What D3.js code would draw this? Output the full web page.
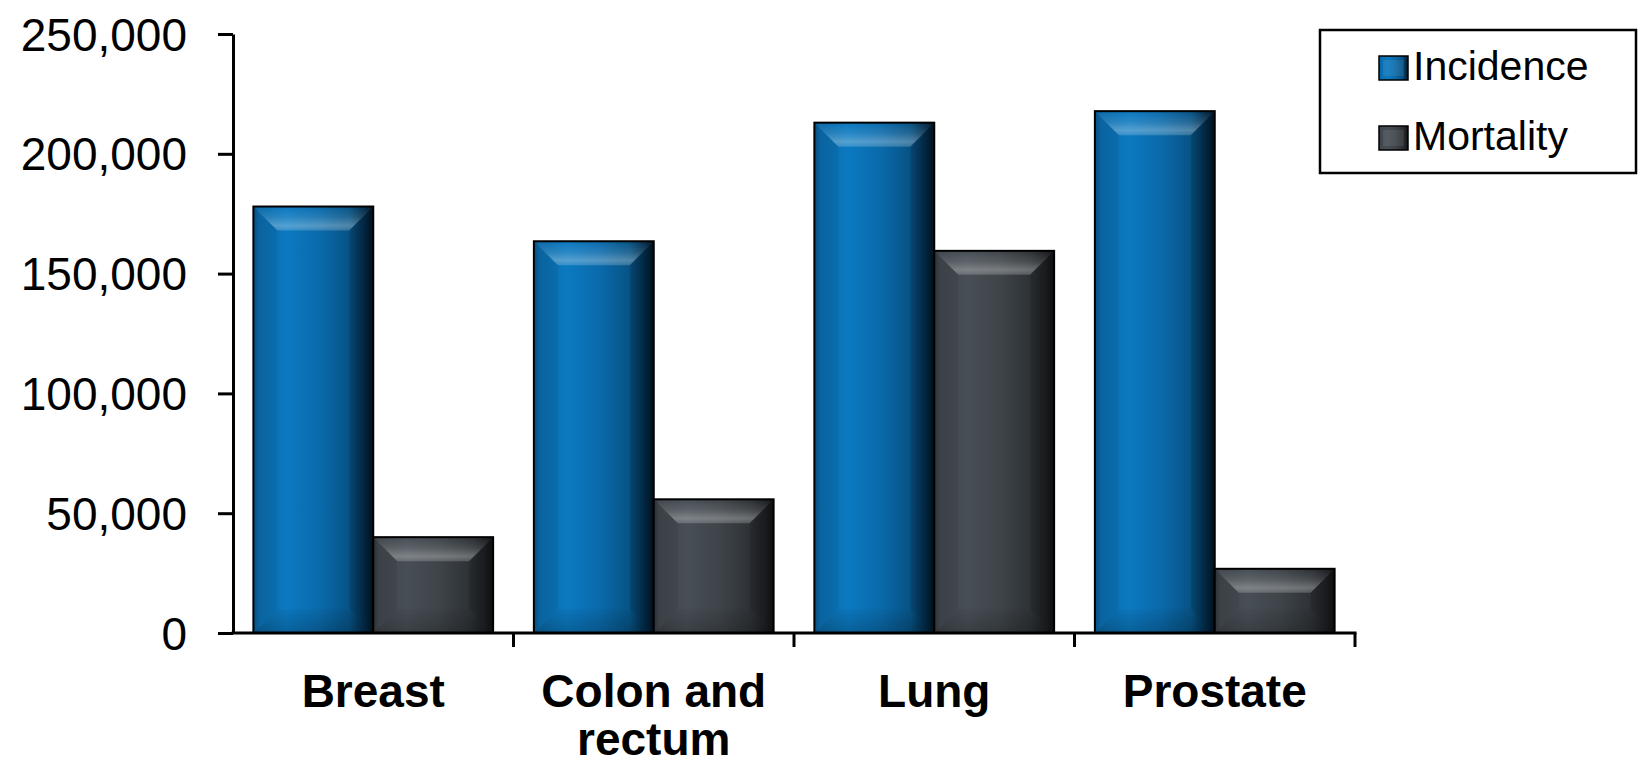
<!DOCTYPE html>
<html>
<head>
<meta charset="utf-8">
<script src="https://cdn.jsdelivr.net/npm/d3@7"></script>
<style>
  html, body { margin: 0; padding: 0; background: #fff; }
  svg { display: block; font-family: "Liberation Sans", Arial, sans-serif; }
</style>
</head>
<body>
<svg id="chart" width="1638" height="764"></svg>
<script>
// Estimated new cases and deaths by cancer site
const categories = ["Breast", "Colon and rectum", "Lung", "Prostate"];
const seriesNames = ["Incidence", "Mortality"];
const incidence = [178000, 163500, 213000, 217800];
const mortality = [40000, 55800, 159500, 26800];
const yTicks = [0, 50000, 100000, 150000, 200000, 250000];

const rows = categories.map((c, i) => ({ category: c, Incidence: incidence[i], Mortality: mortality[i] }));

const svg = d3.select("#chart");
const plot = { left: 233, right: 1355, top: 34, bottom: 633 };

const x0 = d3.scaleBand().domain(categories).range([plot.left, plot.right]).paddingInner(0).paddingOuter(0);
const x1 = d3.scaleBand().domain(seriesNames).range([0, x0.bandwidth()]).paddingInner(0).paddingOuter(0.17);
const y = d3.scaleLinear().domain([0, 250000]).range([plot.bottom, plot.top]);

// Gradients for the bevelled bars
const defs = svg.append("defs");
const bodyStops = {
  Incidence: [[0, "#08548a"], [0.05, "#0b6aa9"], [0.28, "#0b79c0"], [0.55, "#0a6aab"], [0.8, "#075385"], [0.93, "#032a47"], [1, "#01121f"]],
  Mortality: [[0, "#30353a"], [0.05, "#40464c"], [0.28, "#474e55"], [0.55, "#3e4449"], [0.8, "#2e3236"], [0.93, "#1d1f22"], [1, "#0f1012"]]
};
seriesNames.forEach(s => {
  const g = defs.append("linearGradient").attr("id", "body-" + s).attr("x1", 0).attr("x2", 1).attr("y1", 0).attr("y2", 0);
  bodyStops[s].forEach(([o, c]) => g.append("stop").attr("offset", o).attr("stop-color", c));
});
const topHi = defs.append("linearGradient").attr("id", "bevel-top").attr("x1", 0).attr("x2", 0).attr("y1", 0).attr("y2", 1);
[[0, 0.0], [0.45, 0.12], [0.8, 0.3], [1, 0.18]].forEach(([o, a]) =>
  topHi.append("stop").attr("offset", o).attr("stop-color", "#ffffff").attr("stop-opacity", a));
const botSh = defs.append("linearGradient").attr("id", "bevel-bottom").attr("x1", 0).attr("x2", 0).attr("y1", 0).attr("y2", 1);
[[0, 0.03], [1, 0.2]].forEach(([o, a]) =>
  botSh.append("stop").attr("offset", o).attr("stop-color", "#000000").attr("stop-opacity", a));

function drawBevelBar(g, bx, by, w, h, s) {
  const b = Math.min(24, h / 2);
  g.append("rect").attr("x", bx).attr("y", by).attr("width", w).attr("height", h)
    .attr("fill", `url(#body-${s})`);
  g.append("polygon")
    .attr("points", [[bx, by], [bx + w, by], [bx + w - b, by + b], [bx + b, by + b]].join(" "))
    .attr("fill", "url(#bevel-top)");
  g.append("polygon")
    .attr("points", [[bx, by + h], [bx + w, by + h], [bx + w - b, by + h - b], [bx + b, by + h - b]].join(" "))
    .attr("fill", "url(#bevel-bottom)");
  g.append("polygon")
    .attr("points", [[bx, by], [bx + b, by + b], [bx + b, by + h - b], [bx, by + h]].join(" "))
    .attr("fill", "#000").attr("fill-opacity", 0.06);
  g.append("polygon")
    .attr("points", [[bx + w, by], [bx + w - b, by + b], [bx + w - b, by + h - b], [bx + w, by + h]].join(" "))
    .attr("fill", "#000").attr("fill-opacity", 0.12);
  g.append("rect").attr("x", bx).attr("y", by).attr("width", w).attr("height", h)
    .attr("fill", "none").attr("stroke", "#000").attr("stroke-width", 2);
}

// Bars
const barsG = svg.append("g");
rows.forEach(r => {
  seriesNames.forEach(s => {
    const bx = x0(r.category) + x1(s);
    const by = y(r[s]);
    drawBevelBar(barsG, bx, by, x1.bandwidth(), y(0) - by, s);
  });
});

// Y axis
const yAxis = svg.append("g").attr("transform", `translate(${plot.left},0)`)
  .call(d3.axisLeft(y).tickValues(yTicks).tickFormat(d3.format(",")).tickSize(15).tickSizeOuter(0).tickPadding(31));
yAxis.select(".domain").attr("stroke", "#000").attr("stroke-width", 3);
yAxis.selectAll(".tick line").attr("stroke", "#000").attr("stroke-width", 3);
yAxis.selectAll(".tick text").attr("font-size", 46).attr("fill", "#000")
  .attr("font-family", "'Liberation Sans', Arial, sans-serif").attr("dy", "0.35em");

// X axis line with ticks on category boundaries
const xAxis = svg.append("g");
xAxis.append("line").attr("x1", plot.left - 1.5).attr("x2", plot.right + 1.5)
  .attr("y1", y(0)).attr("y2", y(0)).attr("stroke", "#000").attr("stroke-width", 3);
const bounds = categories.slice(1).map(c => x0(c)).concat([plot.right]);
xAxis.selectAll("line.bt").data(bounds).join("line").attr("class", "bt")
  .attr("x1", d => d).attr("x2", d => d).attr("y1", y(0)).attr("y2", y(0) + 14)
  .attr("stroke", "#000").attr("stroke-width", 3);

// Category labels, wrapped to the band width
const labelG = svg.append("g");
categories.forEach(c => {
  const cx = x0(c) + x0.bandwidth() / 2;
  const t = labelG.append("text").attr("x", cx).attr("y", y(0) + 74)
    .attr("text-anchor", "middle").attr("font-size", 46).attr("font-weight", "bold").attr("fill", "#000");
  const words = c.split(" ");
  let line = [];
  let ts = t.append("tspan").attr("x", cx).attr("dy", 0);
  words.forEach(w => {
    line.push(w);
    ts.text(line.join(" "));
    if (ts.node().getComputedTextLength() > x0.bandwidth() - 20 && line.length > 1) {
      line.pop();
      ts.text(line.join(" "));
      line = [w];
      ts = t.append("tspan").attr("x", cx).attr("dy", 48).text(w);
    }
  });
});

// Legend
const legend = svg.append("g");
legend.append("rect").attr("x", 1320).attr("y", 30).attr("width", 316).attr("height", 143)
  .attr("fill", "#fff").attr("stroke", "#000").attr("stroke-width", 2.5);
seriesNames.forEach((s, i) => {
  const ly = 80 + i * 70;
  const sw = legend.append("g");
  sw.append("rect").attr("x", 1379).attr("y", ly - 24).attr("width", 29).attr("height", 24)
    .attr("fill", `url(#body-${s})`).attr("stroke", "#000").attr("stroke-width", 1.5);
  sw.append("rect").attr("x", 1383).attr("y", ly - 20).attr("width", 21).attr("height", 16)
    .attr("fill", "#fff").attr("fill-opacity", 0.08);
  legend.append("text").attr("x", 1413).attr("y", ly).attr("font-size", 41).attr("fill", "#000").text(s);
});
</script>
</body>
</html>
